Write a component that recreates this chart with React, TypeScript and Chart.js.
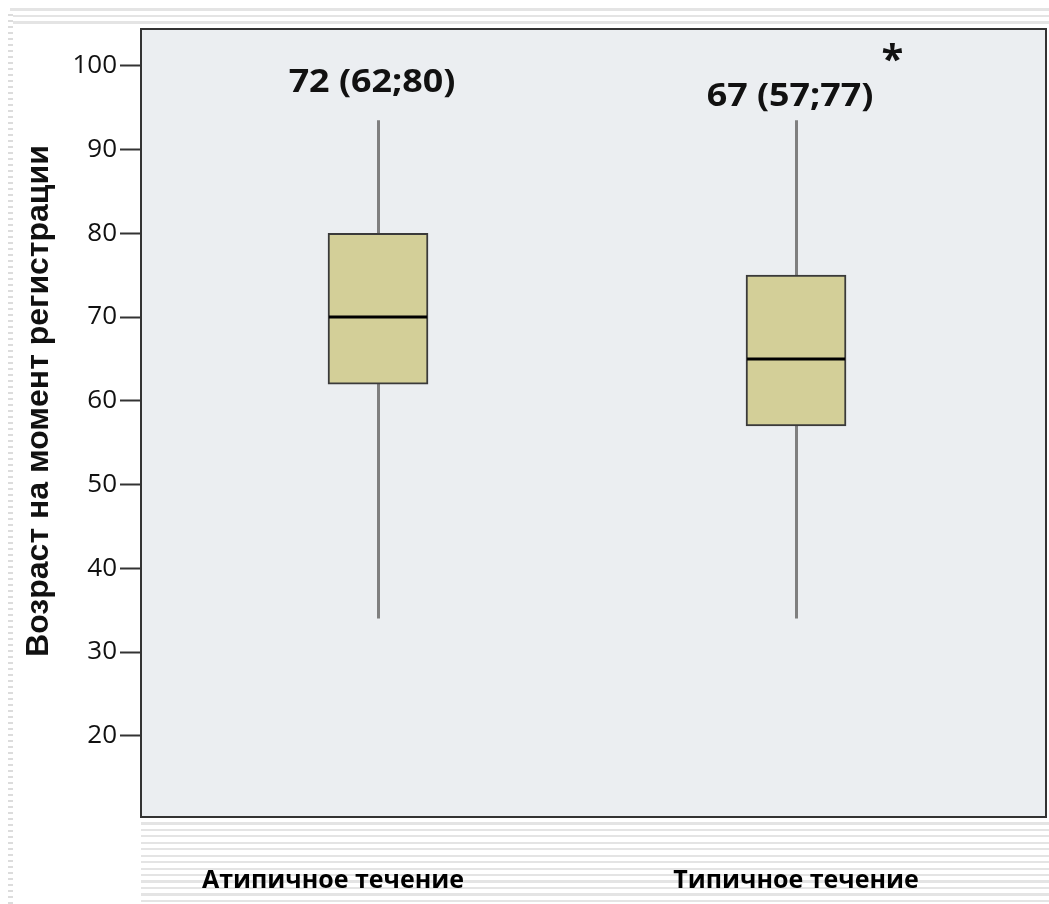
import React, { useEffect, useRef } from "react";
import { Chart, registerables } from "chart.js";

Chart.register(...registerables);

// ---- data ----
const categories = ["Атипичное течение", "Типичное течение"];
const whiskerLow = [34, 34];
const quartile1 = [62, 57];
const medians = [70, 65];
const quartile3 = [80, 75];
const whiskerHigh = [93.5, 93.5];
const annotations = ["72 (62;80)", "67 (57;77)"];
const significanceMark = ["", "*"];
const yTickValues = [20, 30, 40, 50, 60, 70, 80, 90, 100];
const yTitle = "Возраст на момент регистрации";

const boxPlugin = {
  id: "boxDecor",
  beforeDatasetsDraw(chart: any) {
    const { ctx, chartArea: a, scales } = chart;
    const x = scales.x;
    const y = scales.y;
    ctx.save();
    ctx.fillStyle = "#ebeef1";
    ctx.fillRect(a.left, a.top, a.right - a.left, a.bottom - a.top);
    ctx.strokeStyle = "#7f7f7f";
    ctx.lineWidth = 3;
    categories.forEach((_, i) => {
      const px = Math.round(x.getPixelForValue(i + 1)) + 0.5;
      ctx.beginPath();
      ctx.moveTo(px, y.getPixelForValue(whiskerHigh[i]));
      ctx.lineTo(px, y.getPixelForValue(whiskerLow[i]));
      ctx.stroke();
    });
    ctx.restore();
  },
  afterDatasetsDraw(chart: any) {
    const { ctx, chartArea: a, scales } = chart;
    const x = scales.x;
    const y = scales.y;
    const meta = chart.getDatasetMeta(0);
    ctx.save();
    ctx.strokeStyle = "#000";
    ctx.lineWidth = 3;
    categories.forEach((_, i) => {
      const bar = meta.data[i];
      const half = bar.width / 2;
      const py = y.getPixelForValue(medians[i]);
      ctx.beginPath();
      ctx.moveTo(bar.x - half + 1, py);
      ctx.lineTo(bar.x + half - 1, py);
      ctx.stroke();
    });
    // annotations
    const offsets = [-37, -23];
    const stretch = 1.12;
    ctx.fillStyle = "#111";
    ctx.textBaseline = "middle";
    categories.forEach((_, i) => {
      const px = x.getPixelForValue(i + 1) - 6;
      const py = y.getPixelForValue(whiskerHigh[i]) + offsets[i];
      ctx.font = "bold 32px 'Open Sans', sans-serif";
      const w = ctx.measureText(annotations[i]).width * stretch;
      ctx.save();
      ctx.translate(px, py);
      ctx.scale(stretch, 1);
      ctx.textAlign = "center";
      ctx.fillText(annotations[i], 0, 0);
      ctx.restore();
      if (significanceMark[i]) {
        ctx.font = "bold 40px 'Open Sans', sans-serif";
        ctx.textAlign = "left";
        ctx.fillText(significanceMark[i], px + w / 2 + 8, py - 36);
      }
    });
    // category labels under the plot
    const labelShift = [-45, 0];
    ctx.fillStyle = "#000";
    ctx.font = "bold 25px 'Open Sans', sans-serif";
    ctx.textAlign = "center";
    ctx.textBaseline = "middle";
    categories.forEach((c, i) => {
      ctx.fillText(c, x.getPixelForValue(i + 1) + labelShift[i], a.bottom + 64);
    });
    // y axis title
    ctx.save();
    ctx.translate(39, (a.top + a.bottom) / 2 - 22);
    ctx.rotate(-Math.PI / 2);
    ctx.fillStyle = "#111";
    ctx.font = "bold 32px 'Liberation Sans', sans-serif";
    ctx.fillText(yTitle, 0, 0);
    ctx.restore();
    // frame
    ctx.strokeStyle = "#333";
    ctx.lineWidth = 2;
    ctx.strokeRect(a.left, a.top, a.right - a.left, a.bottom - a.top);
    ctx.restore();
  },
};

export default function App() {
  const ref = useRef<HTMLCanvasElement>(null);
  useEffect(() => {
    document.body.style.margin = "0";
    const chart = new Chart(ref.current as HTMLCanvasElement, {
      type: "bar",
      data: {
        datasets: [
          {
            data: categories.map((_, i) => ({ x: i + 1, y: [quartile1[i], quartile3[i]] })) as any,
            backgroundColor: "#d3cf98",
            borderColor: "#3a3a3a",
            borderWidth: 2,
            borderSkipped: false,
            barThickness: 100,
          },
        ],
      },
      options: {
        responsive: false,
        animation: false,
        layout: { padding: { top: 29, right: 3, left: 0, bottom: 0 } },
        plugins: { legend: { display: false }, tooltip: { enabled: false } },
        scales: {
          x: {
            type: "linear",
            min: 0.433,
            max: 2.598,
            offset: false,
            grid: { display: false, offset: false },
            border: { display: false },
            afterBuildTicks: (s: any) => {
              s.ticks = categories.map((_, i) => ({ value: i + 1 }));
            },
            afterFit: (s: any) => {
              s.height = 87;
            },
            ticks: { display: false },
          },
          y: {
            min: 10.3,
            max: 104.4,
            afterBuildTicks: (s: any) => {
              s.ticks = yTickValues.map((v) => ({ value: v }));
            },
            afterFit: (s: any) => {
              s.width = 141;
            },
            grid: {
              drawOnChartArea: false,
              tickLength: 21,
              tickColor: "#333",
              tickWidth: 2,
            },
            border: { display: false },
            ticks: {
              padding: 3,
              color: "#111",
              font: { family: "'Open Sans', sans-serif", size: 26 },
            },
            title: { display: false, text: yTitle },
          },
        },
      },
      plugins: [boxPlugin],
    });
    return () => chart.destroy();
  }, []);

  const stripes =
    "repeating-linear-gradient(to bottom, #ffffff 0px, #ffffff 4px, #e4e4e4 4px, #e4e4e4 6.5px)";
  return (
    <div style={{ position: "fixed", left: 0, top: 0, width: 1049, height: 904, background: "#fff" }}>
      <div style={{ position: "absolute", left: 10, top: 4, width: 1039, height: 22, background: stripes }} />
      <div style={{ position: "absolute", left: 141, top: 818, width: 908, height: 86, background: stripes }} />
      <div
        style={{
          position: "absolute",
          left: 8,
          top: 14,
          width: 5,
          height: 890,
          background: "repeating-linear-gradient(to bottom, #dcdcdc 0px, #dcdcdc 2px, #ffffff 2px, #ffffff 6px)",
        }}
      />
      <canvas ref={ref} width={1049} height={904} style={{ position: "absolute", left: 0, top: 0 }} />
    </div>
  );
}
